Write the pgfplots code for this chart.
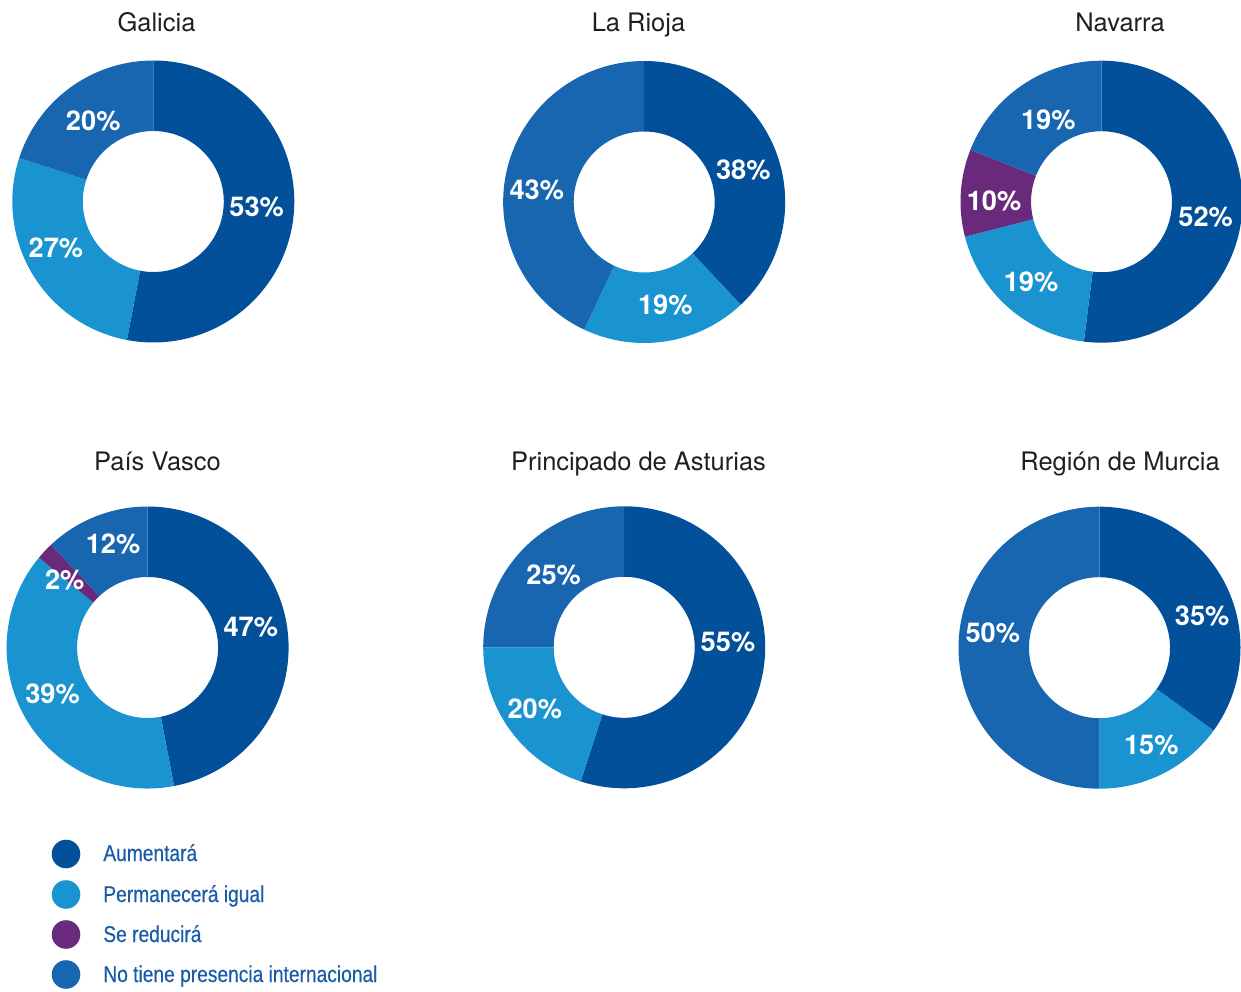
\documentclass[border=0pt]{standalone}
\usepackage{fontspec}
\setmainfont{TeX Gyre Heros}
\newfontfamily\legfont[FakeStretch=0.84,FakeBold=0.5]{Liberation Sans}
\usepackage{pgfplots}
\usepackage{pgfplotstable}
\pgfplotsset{compat=1.18}

\definecolor{cAum}{HTML}{03509A}
\definecolor{cPer}{HTML}{1A93D1}
\definecolor{cRed}{HTML}{6A2A7C}
\definecolor{cNo}{HTML}{1866B0}
\definecolor{cLeg}{HTML}{1A5CA8}

% order: Aumentara, Permanecera igual, Se reducira, No tiene presencia internacional
% val = share (%), col = colour, lx/ly = label position in units of the outer radius
\pgfplotstableread{
val col lx ly
53 cAum 0.733 -0.037
27 cPer -0.691 -0.332
0 cRed 0 0
20 cNo -0.426 0.570
}\galicia
\pgfplotstableread{
val col lx ly
38 cAum 0.703 0.227
19 cPer 0.150 -0.730
0 cRed 0 0
43 cNo -0.762 0.085
}\rioja
\pgfplotstableread{
val col lx ly
52 cAum 0.739 -0.106
19 cPer -0.500 -0.567
10 cRed -0.762 0.007
19 cNo -0.377 0.579
}\navarra
\pgfplotstableread{
val col lx ly
47 cAum 0.732 0.142
39 cPer -0.674 -0.331
2 cRed -0.588 0.480
12 cNo -0.245 0.735
}\vasco
\pgfplotstableread{
val col lx ly
55 cAum 0.736 0.040
20 cPer -0.634 -0.440
0 cRed 0 0
25 cNo -0.500 0.513
}\asturias
\pgfplotstableread{
val col lx ly
35 cAum 0.728 0.225
15 cPer 0.367 -0.690
0 cRed 0 0
50 cNo -0.757 0.102
}\murcia

\def\Runit{2.82cm}
\newcommand\donutslices[1]{%
\pgfplotsextra{%
 \pgfplotstablegetrowsof{#1}%
 \pgfmathtruncatemacro\nrows{\pgfplotsretval-1}%
 \gdef\cum{0}%
 \foreach \i in {0,...,\nrows}{%
   \pgfplotstablegetelem{\i}{val}\of{#1}\let\v\pgfplotsretval
   \pgfplotstablegetelem{\i}{col}\of{#1}\let\c\pgfplotsretval
   \pgfmathsetmacro\aa{90-3.6*\cum}%
   \pgfmathsetmacro\ab{90-3.6*(\cum+\v)}%
   \ifdim\v pt>0pt
   \fill[\c] (axis cs:{cos(\aa)},{sin(\aa)}) arc[start angle=\aa, end angle=\ab, radius=\Runit]
      -- (axis cs:{0.5*cos(\ab)},{0.5*sin(\ab)}) arc[start angle=\ab, end angle=\aa, radius=0.5*\Runit] -- cycle;
   \fi
   \pgfmathsetmacro\newcum{\cum+\v}\xdef\cum{\newcum}%
 }%
 \foreach \i in {0,...,\nrows}{%
   \pgfplotstablegetelem{\i}{val}\of{#1}\let\v\pgfplotsretval
   \pgfplotstablegetelem{\i}{lx}\of{#1}\let\lx\pgfplotsretval
   \pgfplotstablegetelem{\i}{ly}\of{#1}\let\ly\pgfplotsretval
   \ifdim\v pt>0pt
   \node[text=white, font=\bfseries\fontsize{15.5}{16}\selectfont, inner sep=0pt]
      at (axis cs:\lx,\ly) {\v\%};
   \fi
 }%
}}

\pgfplotsset{donut/.style={hide axis, x=2.82cm, y=2.82cm, xmin=-1, xmax=1, ymin=-1, ymax=1,
  anchor=center, clip=false}}

\begin{document}
\begin{tikzpicture}
\useasboundingbox (0,0) rectangle (24.82,19.82);

\begin{axis}[donut, at={(3.066cm,15.79cm)}]
\donutslices{\galicia}
\end{axis}
\begin{axis}[donut, at={(12.884cm,15.78cm)}]
\donutslices{\rioja}
\end{axis}
\begin{axis}[donut, at={(22.03cm,15.786cm)}]
\donutslices{\navarra}
\end{axis}
\begin{axis}[donut, at={(2.952cm,6.87cm)}]
\donutslices{\vasco}
\end{axis}
\begin{axis}[donut, at={(12.484cm,6.874cm)}]
\donutslices{\asturias}
\end{axis}
\begin{axis}[donut, at={(21.99cm,6.866cm)}]
\donutslices{\murcia}
\end{axis}

% titles
\begin{scope}[every node/.style={anchor=base, inner sep=0pt, font=\fontsize{14.5}{15}\selectfont, text=black!88}]
\node at (3.13,19.18) {Galicia};
\node at (12.77,19.18) {La Rioja};
\node at (22.40,19.18) {Navarra};
\node at (3.15,10.40) {País Vasco};
\node at (12.77,10.40) {Principado de Asturias};
\node at (22.40,10.40) {Región de Murcia};
\end{scope}

% legend
\fill[cAum] (1.32,2.74) circle (0.286);
\fill[cPer] (1.32,1.93) circle (0.286);
\fill[cRed] (1.32,1.13) circle (0.286);
\fill[cNo]  (1.32,0.33) circle (0.286);
\begin{scope}[every node/.style={anchor=base west, inner sep=0pt, font=\legfont\fontsize{13}{14}\selectfont, text=cLeg}]
\node at (2.06,2.60) {Aumentará};
\node at (2.06,1.78) {Permanecerá igual};
\node at (2.06,0.98) {Se reducirá};
\node at (2.06,0.18) {No tiene presencia internacional};
\end{scope}
\end{tikzpicture}
\end{document}
